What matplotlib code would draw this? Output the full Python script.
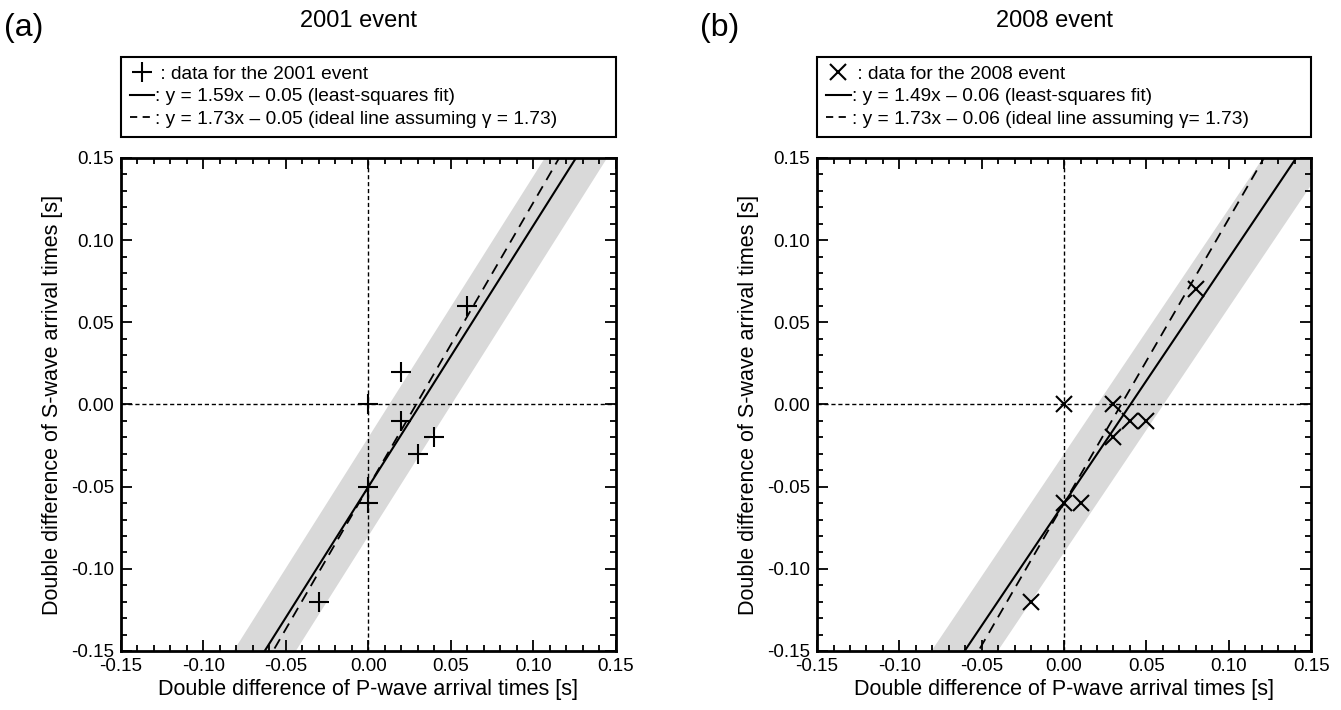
import matplotlib.pyplot as plt
import numpy as np
from matplotlib.lines import Line2D
from matplotlib.ticker import MultipleLocator, FormatStrFormatter

plt.rcParams['font.family'] = ['Liberation Sans', 'DejaVu Sans']
plt.rcParams['axes.unicode_minus'] = False

# 2001 event: double differences of P and S arrival times [s]
dp_2001 = [0.0, 0.02, 0.02, 0.04, 0.03, 0.0, 0.0, -0.03, 0.06]
ds_2001 = [0.0, 0.02, -0.01, -0.02, -0.03, -0.05, -0.06, -0.12, 0.06]
fit_2001 = (1.59, -0.05)
ideal_2001 = (1.73, -0.05)

# 2008 event
dp_2008 = [0.0, 0.03, 0.04, 0.05, 0.03, 0.0, 0.01, -0.02, 0.08]
ds_2008 = [0.0, 0.0, -0.01, -0.01, -0.02, -0.06, -0.06, -0.12, 0.07]
fit_2008 = (1.49, -0.06)
ideal_2008 = (1.73, -0.06)

band_half = 0.03  # half width of the gray band around the fit line


def draw_panel(ax, dp, ds, fit, ideal, marker, year, gamma_txt):
    xx = np.linspace(-0.3, 0.3, 200)
    y_fit = fit[0] * xx + fit[1]
    ax.fill_between(xx, y_fit - band_half, y_fit + band_half, color='#d9d9d9', lw=0, zorder=1)
    ax.axhline(0, color='k', ls=(0, (3, 2)), lw=1, zorder=2)
    ax.axvline(0, color='k', ls=(0, (3, 2)), lw=1, zorder=2)
    ax.plot(xx, y_fit, color='k', lw=1.5, zorder=3)
    ax.plot(xx, ideal[0] * xx + ideal[1], color='k', lw=1.3, ls=(0, (6, 4)), zorder=3)
    ms = 15 if marker == '+' else 12
    ax.plot(dp, ds, ls='none', marker=marker, ms=ms, mew=1.5, color='k', zorder=4)

    ax.set_xlim(-0.15, 0.15)
    ax.set_ylim(-0.15, 0.15)
    for axis in (ax.xaxis, ax.yaxis):
        axis.set_major_locator(MultipleLocator(0.05))
        axis.set_minor_locator(MultipleLocator(0.01))
        axis.set_major_formatter(FormatStrFormatter('%.2f'))
    ax.tick_params(which='both', direction='in', top=True, right=True, labelsize=13.5, width=1.3)
    ax.tick_params(which='major', length=8, pad=5)
    ax.tick_params(which='minor', length=4)
    for s in ax.spines.values():
        s.set_linewidth(2)
    ax.set_xlabel('Double difference of P-wave arrival times [s]', fontsize=15.5, labelpad=3)
    ax.set_ylabel('Double difference of S-wave arrival times [s]', fontsize=15.5, labelpad=6)

    # legend box above the axes, as wide as the axes
    handles = [Line2D([], [], ls='none', marker=marker, ms=ms, mew=1.5, color='k'),
               Line2D([], [], color='k', lw=1.5),
               Line2D([], [], color='k', lw=1.3, ls=(0, (4, 3)))]
    labels = [' : data for the {0} event'.format(year),
              ': y = {0:.2f}x \u2013 {1:.2f} (least-squares fit)'.format(fit[0], -fit[1]),
              ': y = {0:.2f}x \u2013 {1:.2f} (ideal line assuming {2})'.format(ideal[0], -ideal[1], gamma_txt)]
    leg = ax.legend(handles, labels, loc='lower left', bbox_to_anchor=(0, 1.043, 1, 0.2),
                    mode='expand', borderaxespad=0, fancybox=False, edgecolor='k',
                    fontsize=13.8, handlelength=1.3, handletextpad=0.05, labelspacing=0.28,
                    borderpad=0.45, framealpha=1)
    leg.get_frame().set_linewidth(1.5)


fig = plt.figure(figsize=(13.41, 7.10), dpi=100)
ax1 = fig.add_axes([0.0902, 0.0831, 0.3691, 0.6944])
ax2 = fig.add_axes([0.6093, 0.0831, 0.3684, 0.6944])

draw_panel(ax1, dp_2001, ds_2001, fit_2001, ideal_2001, '+', 2001, '\u03b3 = 1.73')
draw_panel(ax2, dp_2008, ds_2008, fit_2008, ideal_2008, 'x', 2008, '\u03b3= 1.73')

fig.text(0.267, 0.971, '2001 event', ha='center', va='center', fontsize=17)
fig.text(0.786, 0.971, '2008 event', ha='center', va='center', fontsize=17)
fig.text(0.003, 0.961, '(a)', ha='left', va='center', fontsize=23)
fig.text(0.522, 0.961, '(b)', ha='left', va='center', fontsize=23)

fig.savefig('out.png', dpi=100)
